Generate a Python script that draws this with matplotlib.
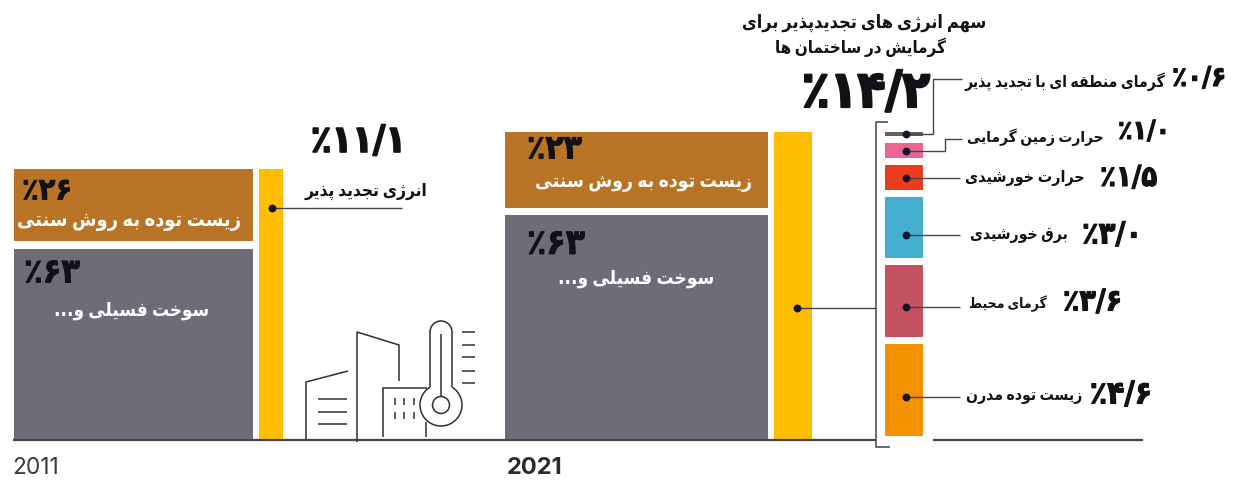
import matplotlib
matplotlib.use("Agg")
import matplotlib.pyplot as plt
import matplotlib.patheffects as pe
from matplotlib.patches import Arc, Circle

# ---------- data ----------
years = ["2011", "2021"]
traditional_label = "زیست توده به روش سنتی"
fossil_label = "سوخت فسیلی و..."
renewable_label = "انرژی تجدید پذیر"
title_lines = ["سهم انرژی های تجدیدپذیر برای", "گرمایش در ساختمان ها"]

# printed shares (left-to-right visual order, as printed)
pct_2011 = ["٪۶۳", "٪۲۶", "٪۱۱/۱"]
pct_2021 = ["٪۶۳", "٪۲۳", "٪۱۴/۲"]
# drawn heights above the baseline (the original is not to one scale)
heights_2011 = [191, 72]
heights_2021 = [225, 76]
renewable_2011 = 271
renewable_2021 = 308

breakdown_names = ["زیست توده مدرن", "گرمای محیط", "برق خورشیدی",
                   "حرارت خورشیدی", "حرارت زمین گرمایی",
                   "گرمای منطقه ای با تجدید پذیر"]
breakdown_pct = ["٪۴/۶", "٪۳/۶", "٪۳/۰", "٪۱/۵", "٪۱/۰", "٪۰/۶"]
breakdown_heights = [92, 72, 61, 25, 15, 4]
breakdown_colors = ["#F39200", "#C4515F", "#45AECF", "#E83E1E", "#E8668F", "#6A5A5E"]


# ---------- Persian shaping (matplotlib does not join letters) ----------
FORMS = {
    "ا": (0xFE8D, 0xFE8E), "آ": (0xFE81, 0xFE82), "د": (0xFEA9, 0xFEAA), "ذ": (0xFEAB, 0xFEAC),
    "ر": (0xFEAD, 0xFEAE), "ز": (0xFEAF, 0xFEB0), "ژ": (0xFB8A, 0xFB8B), "و": (0xFEED, 0xFEEE),
    "ب": (0xFE8F, 0xFE90, 0xFE91, 0xFE92), "پ": (0xFB56, 0xFB57, 0xFB58, 0xFB59),
    "ت": (0xFE95, 0xFE96, 0xFE97, 0xFE98), "ج": (0xFE9D, 0xFE9E, 0xFE9F, 0xFEA0),
    "چ": (0xFB7A, 0xFB7B, 0xFB7C, 0xFB7D), "ح": (0xFEA1, 0xFEA2, 0xFEA3, 0xFEA4),
    "خ": (0xFEA5, 0xFEA6, 0xFEA7, 0xFEA8), "س": (0xFEB1, 0xFEB2, 0xFEB3, 0xFEB4),
    "ش": (0xFEB5, 0xFEB6, 0xFEB7, 0xFEB8), "ط": (0xFEC1, 0xFEC2, 0xFEC3, 0xFEC4),
    "ف": (0xFED1, 0xFED2, 0xFED3, 0xFED4), "ق": (0xFED5, 0xFED6, 0xFED7, 0xFED8),
    "ک": (0xFB8E, 0xFB8F, 0xFB90, 0xFB91), "گ": (0xFB92, 0xFB93, 0xFB94, 0xFB95),
    "ل": (0xFEDD, 0xFEDE, 0xFEDF, 0xFEE0), "م": (0xFEE1, 0xFEE2, 0xFEE3, 0xFEE4),
    "ن": (0xFEE5, 0xFEE6, 0xFEE7, 0xFEE8), "ه": (0xFEE9, 0xFEEA, 0xFEEB, 0xFEEC),
    "ی": (0xFBFC, 0xFBFD, 0xFBFE, 0xFBFF),
}


def shape(s):
    out = []
    for i, c in enumerate(s):
        f = FORMS.get(c)
        if f is None:
            out.append("\u2005" if c == " " else c)
            continue
        prev = s[i - 1] if i else ""
        nxt = s[i + 1] if i + 1 < len(s) else ""
        join_prev = prev in FORMS and len(FORMS[prev]) == 4
        join_next = nxt in FORMS and len(f) == 4
        if join_prev and join_next:
            idx = 3
        elif join_next:
            idx = 2
        elif join_prev:
            idx = 1
        else:
            idx = 0
        out.append(chr(f[idx]))
    return "".join(reversed(out))


# ---------- layout ----------
W, H = 1236, 481
BASE = 441  # pixel row of the baseline
INK = "#111116"
LINE = "#44444E"
BROWN, GREY, YELLOW = "#B87325", "#6E6C78", "#FDBE00"

fig = plt.figure(figsize=(W / 100, H / 100), dpi=100, facecolor="white")
ax = fig.add_axes([0, 0, 1, 1])
ax.set_xlim(0, W)
ax.set_ylim(BASE - H, BASE)
ax.axis("off")


def Y(p):
    return BASE - p


def bar(x0, x1, h, bottom, color):
    ax.bar((x0 + x1) / 2, h, width=x1 - x0, bottom=bottom, color=color, linewidth=0, zorder=2)


def seg(xs, ys, color=LINE, lw=1.0, z=3):
    ax.plot(xs, [Y(v) for v in ys], color=color, lw=lw, solid_capstyle="butt",
            solid_joinstyle="miter", zorder=z)


def fit(s, x0, x1, yc, color=INK, weight="normal", heavy=0.0, family="DejaVu Sans", stretch="condensed"):
    t = ax.text((x0 + x1) / 2, Y(yc), s, ha="center", va="center", color=color,
                weight=weight, fontsize=10, family=family, stretch=stretch, zorder=5)
    r = fig.canvas.get_renderer()
    t.set_fontsize(10 * (x1 - x0) / t.get_window_extent(r).width)
    if heavy:
        t.set_path_effects([pe.withStroke(linewidth=heavy, foreground=color)])
    return t


def stack(x0, x1, heights, colors, gap, start=0):
    bottom = start
    for h, c in zip(heights, colors):
        bar(x0, x1, h, bottom, c)
        bottom += h + gap


# main stacks
stack(14, 253, heights_2011, [GREY, BROWN], 8)
stack(505, 768, heights_2021, [GREY, BROWN], 7)
bar(259, 283, renewable_2011, 0, YELLOW)
bar(774, 812, renewable_2021, 0, YELLOW)
stack(885, 923, breakdown_heights, breakdown_colors, 7, start=4)

# baseline and bracket
seg([13, 876], [BASE, BASE], lw=1.6)
seg([933, 1143], [BASE, BASE], lw=1.6)
seg([888, 876, 876, 890], [123, 123, 448, 448], lw=1.1)

# connectors
seg([272, 402], [209, 209])
seg([797, 876], [309, 309])
conn_y = [398, 308, 236, 179, 152, 135]
seg([906, 960], [398, 398])
seg([906, 960], [308, 308])
seg([906, 960], [236, 236])
seg([906, 960], [179, 179])
seg([906, 945, 945, 962], [152, 152, 140, 140])
seg([906, 933, 933, 962], [135, 135, 80, 80])
ax.scatter([272, 797] + [906] * 6, [Y(v) for v in [209, 309] + conn_y], s=32, color="#15152A",
           linewidths=0, zorder=4)

# labels on bars
fit(pct_2011[1], 22, 72, 192, weight="bold", heavy=0.6)
fit(shape(traditional_label), 17, 241, 222, color="white", weight="bold")
fit(pct_2011[0], 24, 80, 274, weight="bold", heavy=0.6)
fit(shape(fossil_label), 54, 209, 311, color="white", weight="bold")
fit(pct_2021[1], 527, 582, 150, weight="bold", heavy=0.6)
fit(shape(traditional_label), 535, 752, 183, color="white", weight="bold")
fit(pct_2021[0], 527, 585, 245, weight="bold", heavy=0.6)
fit(shape(fossil_label), 558, 714, 279, color="white", weight="bold")

# headline numbers and titles
fit(pct_2011[2], 311, 406, 143, weight="bold", heavy=1.2)
fit(shape(renewable_label), 304, 427, 191, weight="bold")
fit(pct_2021[2], 802, 930, 94, weight="bold", heavy=1.6)
fit(shape(title_lines[0]), 742, 986, 23, weight="bold")
fit(shape(title_lines[1]), 775, 946, 47, weight="bold")

# breakdown labels
name_spans = [(966, 1082, 397), (969, 1047, 304), (970, 1068, 236),
              (965, 1085, 178), (967, 1103, 137), (964, 1165, 82)]
pct_spans = [(1090, 1152, 396), (1063, 1122, 303), (1082, 1142, 236),
             (1100, 1157, 179), (1118, 1170, 133), (1172, 1226, 80)]
for name, pct, ns, ps in zip(breakdown_names, breakdown_pct, name_spans, pct_spans):
    fit(shape(name), ns[0], ns[1], ns[2], weight="bold")
    fit(pct, ps[0], ps[1], ps[2], weight="bold", heavy=0.8)

# years
fit(years[0], 12, 59, 468, color="#3A3A40", family="Inter", stretch="normal")
fit(years[1], 507, 563, 468, color="#2A2A30", weight="bold", family="Inter", stretch="normal")

# decorative building and thermometer icon
ic = dict(lw=1.1, z=3, color="#2E2E36")
seg([306, 306, 348], [440, 383, 372], **ic)
for v in (400, 413, 425):
    seg([318, 347], [v, v], **ic)
seg([357, 357, 399, 399], [443, 333, 346, 382], **ic)
seg([383, 383, 427], [438, 389, 389], **ic)
seg([426, 426], [423, 438], **ic)
for xw in (395, 404, 414):
    seg([xw, xw], [399, 406], **ic)
    seg([xw, xw], [413, 420], **ic)
seg([430, 430], [333, 388], **ic)
seg([452, 452], [333, 388], **ic)
seg([441, 441], [335, 397], **ic)
ax.add_patch(Arc((441, Y(333)), 22, 22, theta1=0, theta2=180, ec="#2E2E36", lw=1.1, zorder=3))
ax.add_patch(Arc((441, Y(406)), 42, 42, theta1=122, theta2=58, ec="#2E2E36", lw=1.1, zorder=3))
ax.add_patch(Circle((441, Y(406)), 8.5, fc="white", ec="#2E2E36", lw=1.1, zorder=3.5))
for v in (333, 346, 358, 372, 384):
    seg([462, 475], [v, v], **ic)

fig.savefig("out.png", dpi=100, facecolor="white")
